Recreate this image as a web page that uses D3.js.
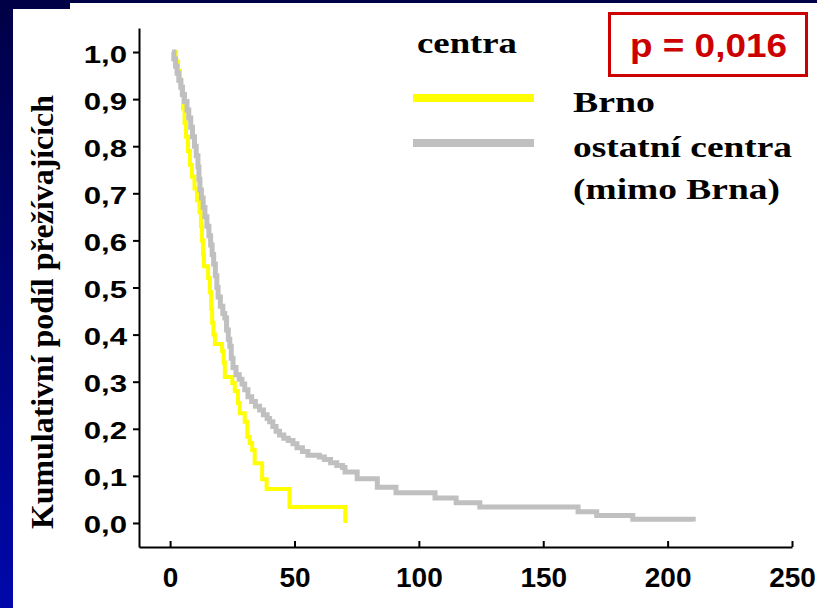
<!DOCTYPE html>
<html>
<head>
<meta charset="utf-8">
<script src="https://cdn.jsdelivr.net/npm/d3@7"></script>
<style>
  body { margin: 0; background: #000046; }
  svg { display: block; }
</style>
</head>
<body>
<svg></svg>
<script>
// Kaplan-Meier: Brno vs. ostatni centra
var brnoTime = [1, 2.4, 3.2, 4, 4.6, 5.2, 5.8, 6.4, 7.2, 8, 8.8, 9.8, 10.8, 11.8, 12.4, 12.8, 13.2, 13.6,
    15.3, 16, 16.5, 16.9, 17.4, 18, 20.9, 21.5, 22, 25, 26, 27.3, 28, 30, 31, 32, 33, 34, 37, 38.8, 48, 70.4];
var brnoSurv = [1, 0.98, 0.96, 0.94, 0.91, 0.88, 0.85, 0.82, 0.79, 0.76, 0.735, 0.71, 0.685, 0.66, 0.63, 0.6, 0.57, 0.545,
    0.52, 0.49, 0.455, 0.425, 0.4, 0.38, 0.365, 0.34, 0.31, 0.297, 0.28, 0.255, 0.233, 0.215, 0.183, 0.17, 0.155, 0.127, 0.093, 0.072, 0.034, 0];

var otherTime = [0.8, 1.5, 2.2, 2.8, 3.5, 4.3, 5, 5.8, 6.8, 7.5, 8.3, 9, 9.8, 10.5, 11.2, 11.6, 12, 12.6, 13.3, 14,
    14.8, 15.6, 16.3, 16.9, 17.5, 18.2, 18.8, 19.3, 20.2, 21.2, 22, 22.7, 23.4, 24, 24.6, 25.3, 26.5, 27.8, 28.9, 30,
    31.3, 32.8, 34.3, 36, 37.5, 39, 40, 41.3, 42.6, 44, 45.7, 47.5, 49.4, 51, 53.2, 55.4, 60, 62, 64.5, 67, 69.3, 70.3,
    75.2, 83.3, 90.8, 106.5, 115, 124.5, 164, 171.5, 186, 210.3];
var otherSurv = [1, 0.985, 0.97, 0.955, 0.94, 0.925, 0.91, 0.895, 0.877, 0.86, 0.84, 0.82, 0.8, 0.78, 0.756, 0.73, 0.707, 0.69, 0.67, 0.65,
    0.63, 0.61, 0.59, 0.57, 0.55, 0.525, 0.5, 0.48, 0.46, 0.445, 0.435, 0.41, 0.39, 0.375, 0.35, 0.33, 0.315, 0.305, 0.295, 0.283,
    0.268, 0.258, 0.248, 0.24, 0.23, 0.222, 0.215, 0.205, 0.195, 0.187, 0.18, 0.175, 0.168, 0.16, 0.152, 0.144, 0.14, 0.135, 0.128, 0.122, 0.118, 0.108,
    0.094, 0.076, 0.064, 0.053, 0.043, 0.034, 0.024, 0.016, 0.008, 0.003];

var xTicks = [0, 50, 100, 150, 200, 250];
var yTicks = [0, 0.1, 0.2, 0.3, 0.4, 0.5, 0.6, 0.7, 0.8, 0.9, 1.0];
var legendNames = ["Brno", "ostatní centra", "(mimo Brna)"];

var width = 817, height = 608;

var svg = d3.select("svg")
    .attr("width", width)
    .attr("height", height);

// background: navy band + blue strip on left
var grad = svg.append("defs").append("linearGradient")
    .attr("id", "strip")
    .attr("x1", 0).attr("y1", 0).attr("x2", 0).attr("y2", 1);
grad.append("stop").attr("offset", "0%").attr("stop-color", "#000046");
grad.append("stop").attr("offset", "100%").attr("stop-color", "#0008aa");

svg.append("rect").attr("width", width).attr("height", height).attr("fill", "#000046");
svg.append("rect").attr("x", 0).attr("y", 0).attr("width", 13).attr("height", height).attr("fill", "url(#strip)");
svg.append("rect").attr("x", 13).attr("y", 9).attr("width", width - 13).attr("height", height - 9).attr("fill", "white");
svg.append("rect").attr("x", 70).attr("y", 3).attr("width", width - 70).attr("height", 10).attr("fill", "white");

var x = d3.scaleLinear().domain([-12.5, 250]).range([139, 792]);
var y = d3.scaleLinear().domain([-0.051, 1.051]).range([547, 28]);

var czFormat = d3.formatLocale({ decimal: ",", thousands: " ", grouping: [3], currency: ["", " Kč"] }).format(".1f");

var xAxis = svg.append("g")
    .attr("transform", "translate(0," + y(-0.051) + ")")
    .call(d3.axisBottom(x).tickValues(xTicks).tickSizeInner(-6).tickSizeOuter(0).tickFormat(d3.format("d")));
xAxis.selectAll("path, line").attr("stroke", "black").attr("stroke-width", 2);
xAxis.selectAll("text")
    .attr("y", 40).attr("dy", null)
    .attr("fill", "black")
    .style("font-family", "'Liberation Sans', Arial, sans-serif")
    .style("font-weight", "bold")
    .style("font-size", "28px");

var yAxis = svg.append("g")
    .attr("transform", "translate(" + x(-12.5) + ",0)")
    .call(d3.axisLeft(y).tickValues(yTicks).tickSizeInner(6).tickSizeOuter(0).tickFormat(czFormat));
yAxis.selectAll("path, line").attr("stroke", "black").attr("stroke-width", 2);
yAxis.selectAll("text")
    .attr("x", null).attr("dy", null)
    .attr("transform", "translate(-12,10) scale(1.3,1)")
    .attr("fill", "black")
    .style("font-family", "'Liberation Sans', Arial, sans-serif")
    .style("font-weight", "bold")
    .style("font-size", "24px");

// y axis title
svg.append("text")
    .attr("transform", "translate(53,312) rotate(-90)")
    .attr("text-anchor", "middle")
    .attr("textLength", 434)
    .attr("lengthAdjust", "spacingAndGlyphs")
    .style("font-family", "'Liberation Serif', 'Times New Roman', serif")
    .style("font-weight", "bold")
    .style("font-size", "32px")
    .text("Kumulativní podíl přežívajících");

// survival curves
var line = d3.line()
    .x(d => x(d[0]))
    .y(d => y(d[1]))
    .curve(d3.curveStepAfter);

var brno = d3.zip(brnoTime, brnoSurv);
var other = d3.zip(otherTime, otherSurv);

svg.append("path")
    .attr("d", line(brno))
    .attr("fill", "none")
    .attr("stroke", "#ffff00")
    .attr("stroke-width", 4);

svg.append("path")
    .attr("d", line(other))
    .attr("fill", "none")
    .attr("stroke", "#c0c0c0")
    .attr("stroke-width", 5);

// legend
var serif = "'Liberation Serif', 'Times New Roman', serif";
svg.append("text")
    .attr("x", 417).attr("y", 53)
    .attr("textLength", 100).attr("lengthAdjust", "spacingAndGlyphs")
    .style("font-family", serif).style("font-weight", "bold").style("font-size", "30px")
    .text("centra");

svg.append("line").attr("x1", 413).attr("x2", 534).attr("y1", 98).attr("y2", 98)
    .attr("stroke", "#ffff00").attr("stroke-width", 8);
svg.append("line").attr("x1", 413).attr("x2", 534).attr("y1", 143).attr("y2", 143)
    .attr("stroke", "#c0c0c0").attr("stroke-width", 8);

var legendY = [112, 157, 199];
var legendW = [82, 219, 207];
legendNames.forEach(function(name, i) {
    svg.append("text")
        .attr("x", 573).attr("y", legendY[i])
        .attr("textLength", legendW[i]).attr("lengthAdjust", "spacingAndGlyphs")
        .style("font-family", serif).style("font-weight", "bold").style("font-size", "30px")
        .text(name);
});

// p value box
svg.append("rect")
    .attr("x", 609.5).attr("y", 13.5).attr("width", 197).attr("height", 62)
    .attr("fill", "white").attr("stroke", "#cc0000").attr("stroke-width", 3);
svg.append("text")
    .attr("x", 630).attr("y", 57)
    .attr("textLength", 157).attr("lengthAdjust", "spacingAndGlyphs")
    .attr("fill", "#cc0000")
    .style("font-family", "'Liberation Sans', Arial, sans-serif")
    .style("font-weight", "bold").style("font-size", "33px")
    .text("p = 0,016");
</script>
</body>
</html>
